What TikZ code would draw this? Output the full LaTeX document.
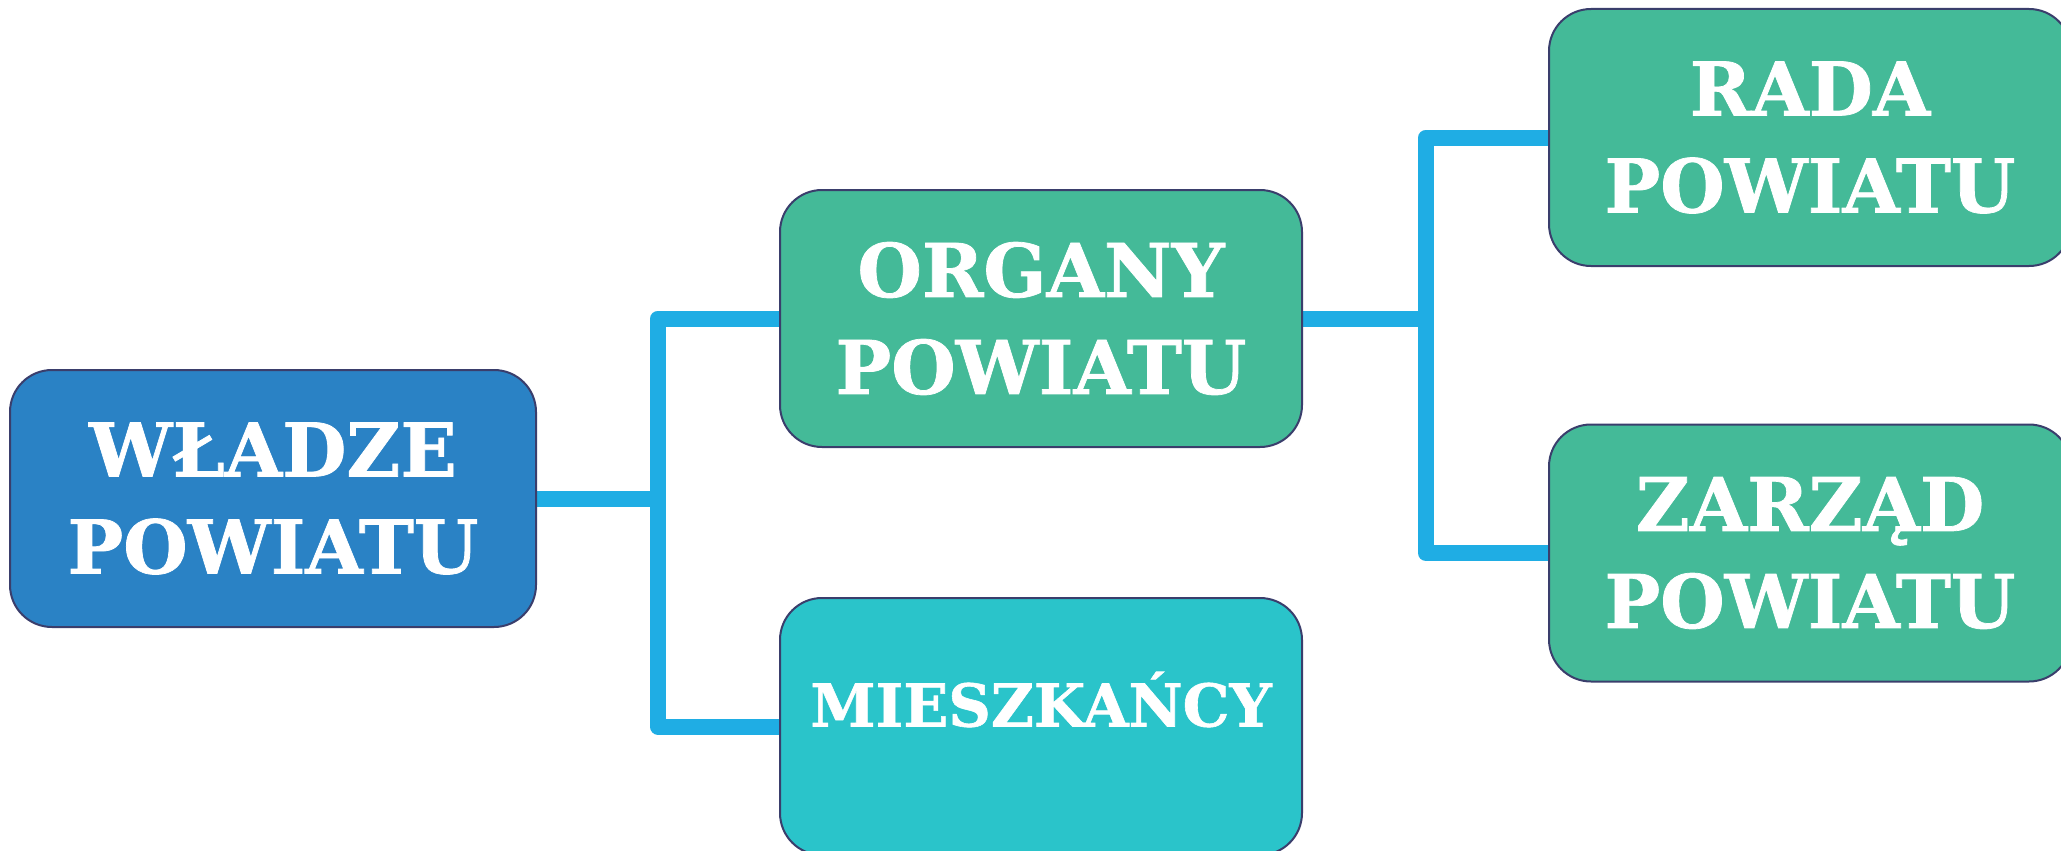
\documentclass[tikz,border=0pt]{standalone}
\usepackage{fontspec}
\newfontfamily\boxfont{DejaVu Serif}[BoldFont={DejaVu Serif Bold}, BoldFeatures={FakeBold=1}]
\usetikzlibrary{backgrounds}
\definecolor{wblue}{HTML}{2A82C5}
\definecolor{wgreen}{HTML}{44BA98}
\definecolor{wcyan}{HTML}{2AC4CA}
\definecolor{connblue}{HTML}{1FADE4}
\definecolor{rimcol}{HTML}{3A3E6C}
\tikzset{
  boxnode/.style={draw=rimcol, line width=2pt, rounded corners=42pt,
    minimum width=522pt, minimum height=257pt, inner sep=0pt,
    text=white, align=center,
    font=\boxfont\bfseries\fontsize{74}{97}\selectfont},
  smallbox/.style={boxnode, font=\boxfont\bfseries\fontsize{59}{80}\selectfont},
  conn/.style={draw=connblue, line width=16pt, line join=round, line cap=butt}
}
\begin{document}
\begin{tikzpicture}[x=1pt,y=-1pt]
\useasboundingbox (0,0) rectangle (2061,851);
\clip (0,0) rectangle (2061,851);
\node[boxnode, fill=wblue, minimum width=526pt] (wladze) at (273,498.5) {WŁADZE\\POWIATU};
\node[boxnode, fill=wgreen] (organy) at (1041,318.5) {ORGANY\\POWIATU};
\node[smallbox, fill=wcyan] (mieszk) at (1041,726.5) {\smash{MIESZKAŃCY}};
\node[boxnode, fill=wgreen] (rada) at (1810,137.5) {RADA\\POWIATU};
\node[boxnode, fill=wgreen] (zarzad) at (1810,553) {ZARZĄD\\POWIATU};
\coordinate (j1) at (658,0);
\coordinate (j2) at (1426,0);
\begin{scope}[on background layer]
\fill[white] (0,0) rectangle (2061,851);
\draw[conn] (wladze.east) -- (wladze.east -| j1);
\draw[conn] (organy.west) -- (organy.west -| j1) -- (mieszk.west -| j1) -- (mieszk.west);
\draw[conn] (organy.east) -- (organy.east -| j2);
\draw[conn] (rada.west) -- (rada.west -| j2) -- (zarzad.west -| j2) -- (zarzad.west);
\end{scope}
\end{tikzpicture}
\end{document}
